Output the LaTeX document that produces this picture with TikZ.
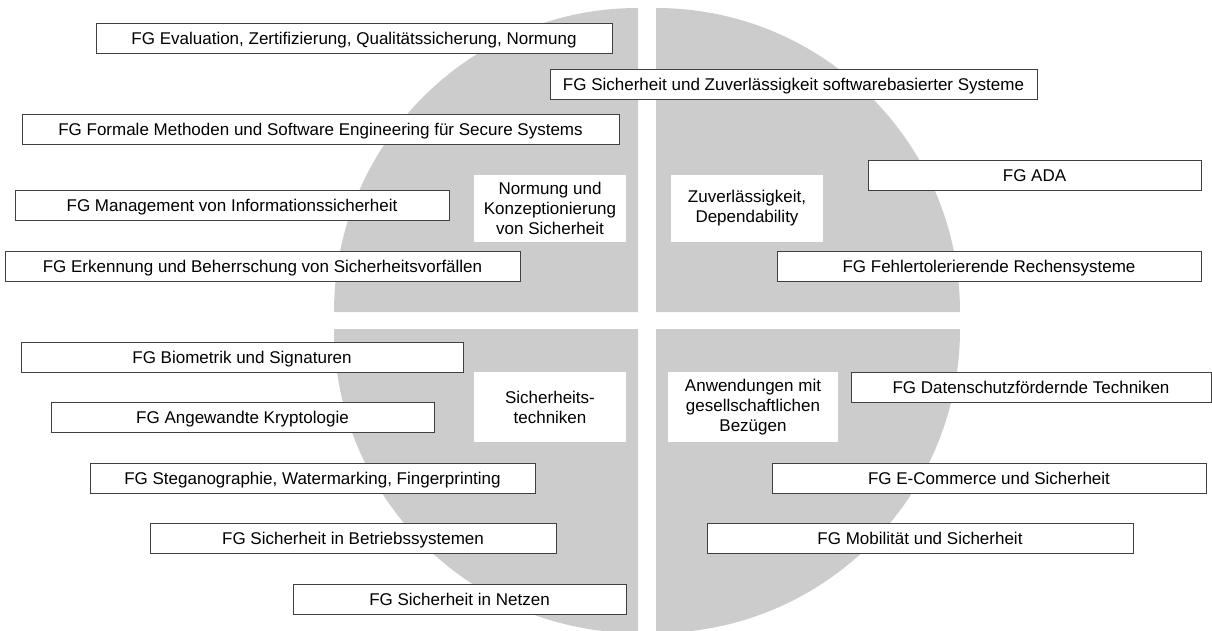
\documentclass[tikz,border=0pt]{standalone}
\usepackage{fontspec}
\setmainfont{Liberation Sans}
\definecolor{quadgray}{RGB}{204,204,204}
\definecolor{boxline}{RGB}{64,64,64}

\begin{document}
\begin{tikzpicture}[x=1pt,y=-1pt]
    \tikzstyle{every node}=[font=\fontsize{17}{20}\selectfont]
    \tikzstyle{fgbox}=[draw=boxline, line width=1pt, fill=white, minimum height=30pt, inner sep=0pt, text height=12.2pt, text depth=0pt]
    \tikzstyle{areabox}=[fill=white, inner sep=0pt, align=center, minimum width=152pt, minimum height=67pt]
    \useasboundingbox (0,0) rectangle (1212,630);

    % the four quarters of the circle
    \fill[quadgray] (638,312) -- ++(-304,0) arc[start angle=180, end angle=270, radius=304] -- cycle;
    \fill[quadgray] (656,312) -- ++(0,-304) arc[start angle=270, end angle=360, radius=304] -- cycle;
    \fill[quadgray] (638,329) -- ++(-304,0) arc[start angle=180, end angle=90, radius=304] -- cycle;
    \fill[quadgray] (656,329) -- ++(304,0) arc[start angle=0, end angle=90, radius=304] -- cycle;

    \node[areabox] (normung) at (550,208.5) {Normung und\\Konzeptionierung\\von Sicherheit};
    \node[areabox] (zuverl) at (747,208) {Zuverlässigkeit,\\Dependability};
    \node[areabox, minimum height=70pt] (sichtech) at (550,407) {Sicherheits-\\techniken};
    \node[areabox, minimum width=170pt, minimum height=70pt] (anwend) at (753,407) {Anwendungen mit\\gesellschaftlichen\\Bezügen};

    \node[fgbox, minimum width=516pt] (eval) at (354,38) {FG Evaluation, Zertifizierung, Qualitätssicherung, Normung};
    \node[fgbox, minimum width=487pt] (swsys) at (793.5,84) {FG Sicherheit und Zuverlässigkeit softwarebasierter Systeme};
    \node[fgbox, minimum width=597pt] (formal) at (320.5,129) {FG Formale Methoden und Software Engineering für Secure Systems};
    \node[fgbox, minimum width=434pt] (mgmt) at (232,205) {FG Management von Informationssicherheit};
    \node[fgbox, minimum width=515pt] (erkenn) at (262.5,266) {FG Erkennung und Beherrschung von Sicherheitsvorfällen};
    \node[fgbox, minimum width=333pt] (ada) at (1034.5,175) {FG ADA};
    \node[fgbox, minimum width=424pt] (fehler) at (989,266) {FG Fehlertolerierende Rechensysteme};

    \node[fgbox, minimum width=442pt] (biom) at (242,357) {FG Biometrik und Signaturen};
    \node[fgbox, minimum width=383pt] (krypto) at (242.5,417) {FG Angewandte Kryptologie};
    \node[fgbox, minimum width=445pt] (stegano) at (312.5,478) {FG Steganographie, Watermarking, Fingerprinting};
    \node[fgbox, minimum width=406pt] (betrieb) at (353,538) {FG Sicherheit in Betriebssystemen};
    \node[fgbox, minimum width=333pt] (netze) at (459.5,599) {FG Sicherheit in Netzen};

    \node[fgbox, minimum width=360pt] (daten) at (1031,387.5) {FG Datenschutzfördernde Techniken};
    \node[fgbox, minimum width=434pt] (ecomm) at (989,478) {FG E-Commerce und Sicherheit};
    \node[fgbox, minimum width=426pt] (mobil) at (920,538) {FG Mobilität und Sicherheit};
\end{tikzpicture}
\end{document}
